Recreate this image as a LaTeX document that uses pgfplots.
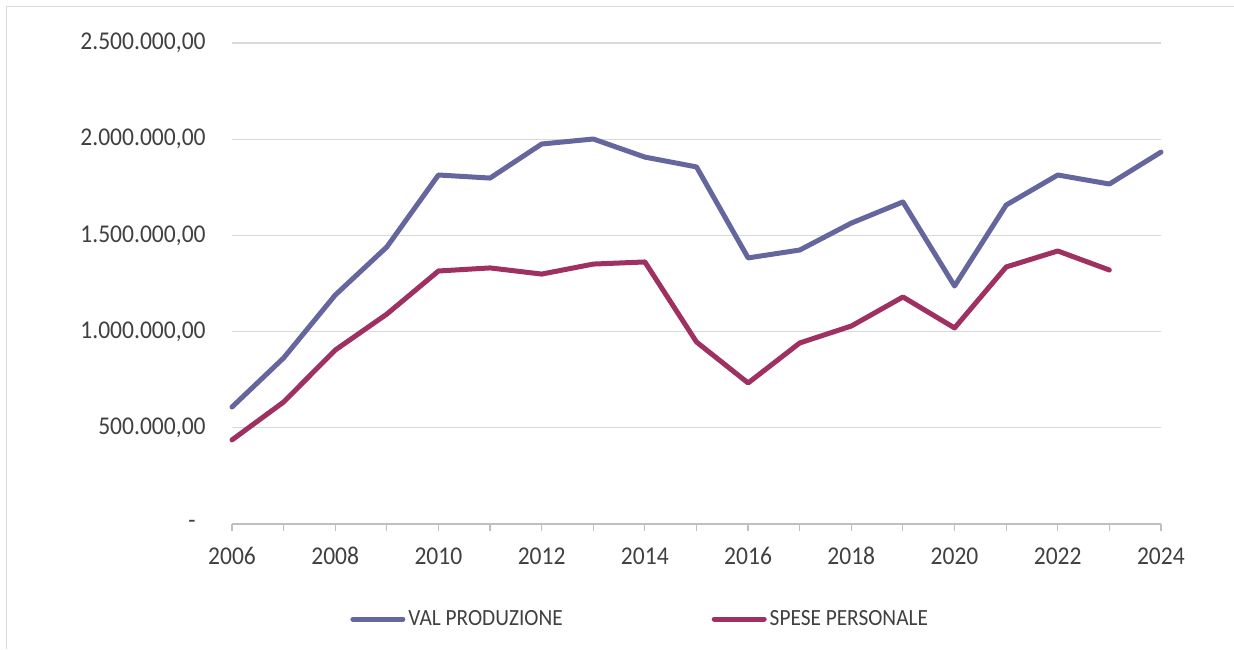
\documentclass[border=0pt]{standalone}
\usepackage{fontspec}
\setmainfont{Carlito}[FakeStretch=0.92]
\usepackage{pgfplots}
\pgfplotsset{compat=1.18}
\definecolor{txt}{RGB}{64,64,64}
\definecolor{valc}{RGB}{102,102,158}
\definecolor{spec}{RGB}{158,48,98}
\definecolor{gridc}{RGB}{217,217,217}
\definecolor{axc}{RGB}{191,191,191}
\begin{document}
\begin{tikzpicture}
\useasboundingbox (0,0) rectangle (617pt,324.5pt);
\draw[gridc, line width=0.6pt] (3.25pt,0) -- (3.25pt,321.25pt) -- (617pt,321.25pt);
\begin{axis}[
  at={(116pt,62.5pt)}, anchor=south west,
  scale only axis, width=464.5pt, height=240.5pt,
  xmin=2006, xmax=2024, ymin=0, ymax=2500000,
  clip=false,
  axis x line*=bottom, axis y line*=left,
  y axis line style={draw=none},
  x axis line style={axc, line width=0.6pt},
  xtick={2006,2007,...,2024},
  xticklabels={2006,,2008,,2010,,2012,,2014,,2016,,2018,,2020,,2022,,2024},
  tick align=outside, major tick length=3.5pt,
  xtick style={axc, line width=0.6pt},
  ytick={0,500000,1000000,1500000,2000000,2500000},
  yticklabels={-\kern5pt,{500.000,00},{1.000.000,00},{1.500.000,00},{2.000.000,00},{2.500.000,00}},
  scaled y ticks=false,
  ytick style={draw=none},
  ymajorgrids, grid style={gridc, line width=0.6pt},
  tick label style={font=\fontsize{12.8}{15}\selectfont, text=txt},
  yticklabel style={anchor=east, inner xsep=0pt, xshift=-9.5pt},
  xticklabel style={anchor=north, inner sep=0pt, yshift=-8pt},
  legend columns=2,
  legend image code/.code={\draw (1.25pt,0pt) -- (26.25pt,0pt);},
  legend style={at={(0.127,-0.1975)}, anchor=west, draw=none, fill=none,
    font=\fontsize{11.6}{13}\selectfont, text=txt, inner sep=0pt,
    nodes={inner sep=1.5pt},
    /tikz/every even column/.append style={column sep=73pt}},
  every axis plot/.append style={line width=2.5pt, line cap=round, line join=round},
]
\addplot[valc] coordinates {
(2006,608000) (2007,863000) (2008,1190000) (2009,1440000) (2010,1814000)
(2011,1798000) (2012,1975000) (2013,2001000) (2014,1907000) (2015,1856000)
(2016,1383000) (2017,1424000) (2018,1564000) (2019,1674000) (2020,1237000)
(2021,1658000) (2022,1814000) (2023,1767000) (2024,1933000)};
\addlegendentry{VAL PRODUZIONE}
\addplot[spec] coordinates {
(2006,437000) (2007,634000) (2008,904000) (2009,1091000) (2010,1315000)
(2011,1331000) (2012,1299000) (2013,1351000) (2014,1362000) (2015,946000)
(2016,733000) (2017,941000) (2018,1029000) (2019,1180000) (2020,1019000)
(2021,1336000) (2022,1419000) (2023,1320000)};
\addlegendentry{SPESE PERSONALE}
\end{axis}
\end{tikzpicture}
\end{document}
